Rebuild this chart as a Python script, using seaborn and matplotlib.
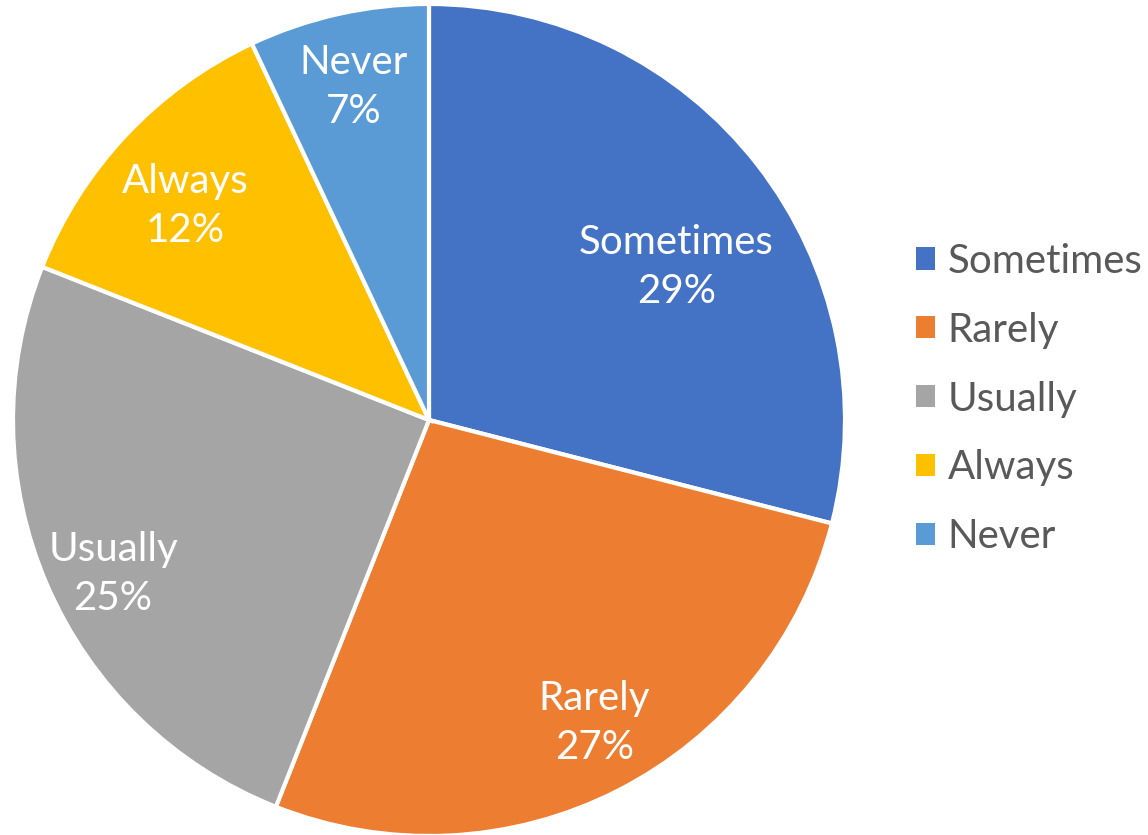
import numpy as np
import matplotlib
matplotlib.use("Agg")
import matplotlib.pyplot as plt
from matplotlib.patches import Patch
import seaborn as sns

# Survey response shares
categories = ["Sometimes", "Rarely", "Usually", "Always", "Never"]
shares = [29, 27, 25, 12, 7]
colors = ["#4472C4", "#ED7D31", "#A5A5A5", "#FFC000", "#5B9BD5"]

# in-slice label placement: radial fraction and angular nudge (degrees)
label_radius = [0.70, 0.83, 0.845, 0.78, 0.82]
label_nudge = [-6.0, 1.6, 2.6, 1.9, 0.1]

sns.set_theme(style="white")
plt.rcParams["font.family"] = ["Lato", "DejaVu Sans"]
palette = sns.color_palette(colors)

fig = plt.figure(figsize=(11.48, 8.35), dpi=100)
W, H = 1148, 835
cx, cy, r = 429, 420, 416
ax = fig.add_axes([(cx - r) / W, (H - cy - r) / H, 2 * r / W, 2 * r / H])

wedges, _ = ax.pie(
    shares,
    colors=palette,
    startangle=90,
    counterclock=False,
    radius=1.0,
    wedgeprops=dict(edgecolor="white", linewidth=3),
    frame=False,
)
ax.set_xlim(-1, 1)
ax.set_ylim(-1, 1)
ax.set_aspect("equal")
ax.axis("off")

for w, name, val, frac, nudge in zip(wedges, categories, shares,
                                     label_radius, label_nudge):
    mid = np.deg2rad((w.theta1 + w.theta2) / 2 + nudge)
    ax.text(frac * np.cos(mid), frac * np.sin(mid), f"{name}\n{val}%",
            ha="center", va="center", color="white", fontsize=29,
            linespacing=1.4)

handles = [Patch(facecolor=c, edgecolor="none") for c in palette]
fig.legend(
    handles, categories,
    loc="center left", bbox_to_anchor=(916 / W, 1 - 399 / H),
    frameon=False, fontsize=29, labelcolor="#595959",
    handlelength=0.47, handleheight=0.47, handletextpad=0.32,
    labelspacing=0.79, borderpad=0, borderaxespad=0,
)

fig.savefig("out.png", dpi=100, facecolor="white")
